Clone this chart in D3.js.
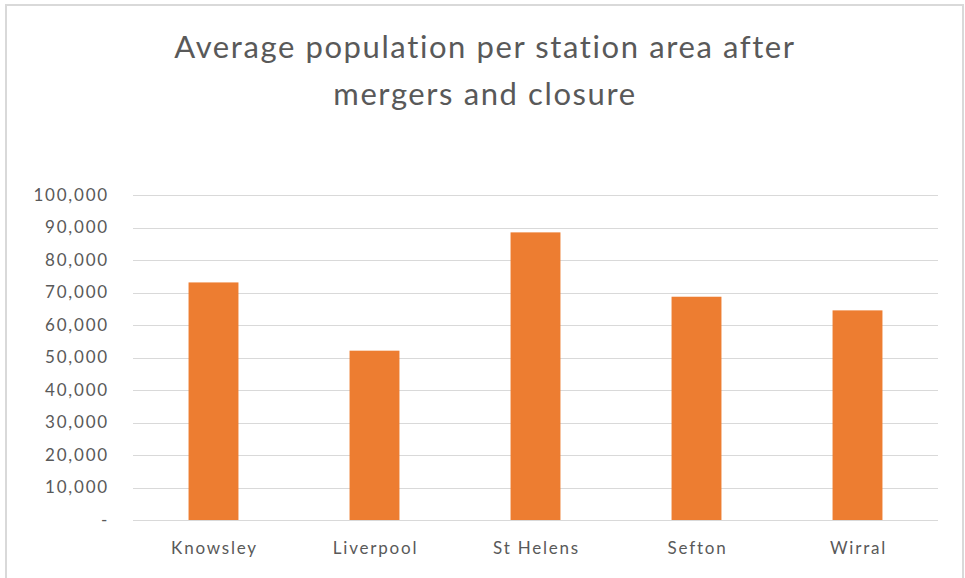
<!DOCTYPE html>
<html>
<head>
<meta charset="utf-8">
<script src="https://cdn.jsdelivr.net/npm/d3@7"></script>
<style>
  body { margin: 0; background: #fff; }
  text { font-family: Lato, "Open Sans", sans-serif; fill: #595959; }
</style>
</head>
<body>
<svg class="chart"></svg>
<script>
// data
let categories = ["Knowsley", "Liverpool", "St Helens", "Sefton", "Wirral"];
let values = [73100, 52100, 88500, 68700, 64500];
let yTicks = [0, 10000, 20000, 30000, 40000, 50000, 60000, 70000, 80000, 90000, 100000];
let titleLines = ["Average population per station area after", "mergers and closure"];

let W = 965, H = 578;
let plotLeft = 133, plotRight = 938, plotTop = 195, plotBottom = 520;

var svg = d3.select(".chart")
            .attr("width", W)
            .attr("height", H);

// chart frame
svg.append("rect")
   .attr("x", 6).attr("y", 5)
   .attr("width", 957).attr("height", 590)
   .attr("fill", "#fff")
   .attr("stroke", "#d9d9d9")
   .attr("stroke-width", 2);

var x = d3.scaleBand()
          .domain(categories)
          .range([plotLeft, plotRight])
          .paddingInner(0.69)
          .paddingOuter(0.345);

var y = d3.scaleLinear()
          .domain([0, 100000])
          .range([plotBottom, plotTop]);

// gridlines
svg.append("g")
   .selectAll("line")
   .data(yTicks)
   .enter().append("line")
   .attr("x1", plotLeft).attr("x2", plotRight)
   .attr("y1", d => Math.round(y(d)) + 0.5)
   .attr("y2", d => Math.round(y(d)) + 0.5)
   .attr("stroke", "#d9d9d9")
   .attr("stroke-width", 1);

// bars
svg.append("g")
   .selectAll("rect")
   .data(values)
   .enter().append("rect")
   .attr("x", (d, i) => x(categories[i]))
   .attr("y", d => y(d))
   .attr("width", x.bandwidth())
   .attr("height", d => plotBottom - y(d))
   .attr("fill", "#ed7d31");

// y axis labels
var yAxis = svg.append("g")
   .attr("transform", "translate(" + (plotLeft - 24) + ",0)")
   .call(d3.axisLeft(y).tickValues(yTicks).tickSize(0)
           .tickFormat(d => d === 0 ? "-" : d3.format(",")(d)));
yAxis.select(".domain").remove();
yAxis.selectAll("text")
     .style("font-size", "17px")
     .style("letter-spacing", "1.8px")
     .attr("fill", "#595959")
     .attr("x", 0);

// x axis labels
var xAxis = svg.append("g")
   .attr("transform", "translate(1," + plotBottom + ")")
   .call(d3.axisBottom(x).tickSize(0));
xAxis.select(".domain").remove();
xAxis.selectAll("text")
     .style("font-size", "17px")
     .style("letter-spacing", "1.8px")
     .attr("fill", "#595959")
     .attr("y", 22);

// title
svg.append("g")
   .selectAll("text")
   .data(titleLines)
   .enter().append("text")
   .attr("x", 485)
   .attr("y", (d, i) => 58 + i * 47)
   .attr("text-anchor", "middle")
   .style("font-size", "31px")
   .style("letter-spacing", "1.6px")
   .text(d => d);
</script>
</body>
</html>
